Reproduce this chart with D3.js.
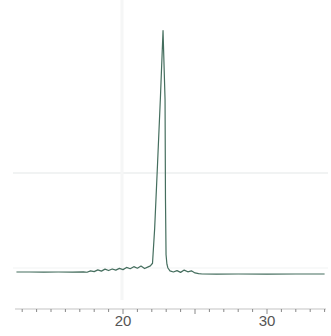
<!DOCTYPE html>
<html>
<head>
<meta charset="utf-8">
<script src="https://cdn.jsdelivr.net/npm/d3@7"></script>
<style>
  body { margin: 0; background: #fff; }
  svg { display: block; }
</style>
</head>
<body>
<div id="playground"></div>
<script>
// trace: x position and signal
var xs = [12.6, 13.5, 14.5, 15.5, 16.5, 17.25, 17.5, 17.75, 18.0, 18.25, 18.5, 18.75, 19.0, 19.25, 19.5, 19.75,
  20.0, 20.25, 20.5, 20.75, 21.0, 21.25, 21.5, 21.75, 21.9, 22.05,
  22.2, 22.4, 22.6, 22.78, 22.92, 22.95, 22.99, 23.05, 23.12, 23.26,
  23.5, 23.75, 24.0, 24.25, 24.5, 24.75, 25.0, 25.25, 25.5, 26.5, 28.0, 30.0, 32.0, 34.0];
var ys = [-0.042, -0.042, -0.044, -0.042, -0.043, -0.04, -0.045, -0.03, -0.038, -0.02, -0.033, -0.012, -0.027, -0.01, -0.022, -0.004,
  -0.017, 0.006, -0.008, 0.014, -0.002, 0.02, -0.006, 0.012, 0.022, 0.05,
  0.42, 1.1, 1.8, 2.5, 1.77, 0.72, 0.14, 0.04, 0.0, -0.03,
  -0.042, -0.028, -0.046, -0.022, -0.04, -0.03, -0.052, -0.06, -0.063, -0.064, -0.063, -0.064, -0.063, -0.063];

var xDomain = [12.5, 34];
var yDomain = [0, 1];
var majorTicks = [20, 25, 30];
var tickLabels = ["20", "30"];
var minorTicks = d3.range(13, 35);

var width = 331, height = 336;

var svg = d3.select("#playground")
  .append("svg")
  .attr("width", width)
  .attr("height", height);

var x = d3.scaleLinear()
  .domain(xDomain)
  .range([15, 324.6]);

var y = d3.scaleLinear()
  .domain(yDomain)
  .range([268, 173]);

// faint grid
svg.append("g")
  .selectAll("line.h")
  .data(yDomain)
  .enter()
  .append("line")
  .attr("x1", 13).attr("x2", 328)
  .attr("y1", d => y(d)).attr("y2", d => y(d))
  .attr("stroke", d => d == 0 ? "#f1f3f3" : "#e3e7e7")
  .attr("stroke-width", 1.2);

svg.append("line")
  .attr("x1", x(20) - 1).attr("x2", x(20) - 1)
  .attr("y1", 0).attr("y2", 300)
  .attr("stroke", "#f5f6f6")
  .attr("stroke-width", 3);

// x axis
var axisY = 309;
svg.append("line")
  .attr("x1", 15).attr("x2", 326)
  .attr("y1", axisY).attr("y2", axisY)
  .attr("stroke", "#c4c4c4")
  .attr("stroke-width", 1.2);

svg.append("g")
  .selectAll("line")
  .data(minorTicks)
  .enter()
  .append("line")
  .attr("x1", d => x(d)).attr("x2", d => x(d))
  .attr("y1", axisY)
  .attr("y2", d => majorTicks.indexOf(d) >= 0 ? axisY + 5 : axisY + 3)
  .attr("stroke", "#888")
  .attr("stroke-width", 1);

svg.append("g")
  .selectAll("text")
  .data(tickLabels)
  .enter()
  .append("text")
  .attr("x", d => x(+d))
  .attr("y", 326)
  .attr("text-anchor", "middle")
  .attr("font-family", "Liberation Sans, Arial, sans-serif")
  .attr("font-size", 15)
  .attr("fill", "#555")
  .text(d => d);

// the trace
var pts = xs.map((d, i) => [d, ys[i]]);
var line = d3.line()
  .x(d => x(d[0]))
  .y(d => y(d[1]));

svg.append("path")
  .datum(pts)
  .attr("d", line)
  .attr("fill", "none")
  .attr("stroke", "#456e5e")
  .attr("stroke-width", 1.2)
  .attr("stroke-linejoin", "round");
</script>
</body>
</html>
